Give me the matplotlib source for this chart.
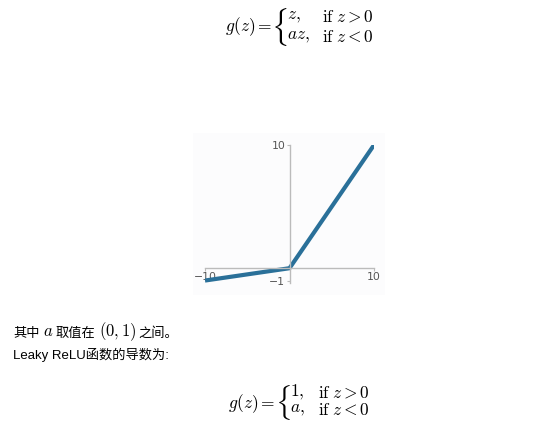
import numpy as np
import matplotlib
matplotlib.use("Agg")
import matplotlib.pyplot as plt
from matplotlib.patches import Rectangle

plt.rcParams['mathtext.fontset'] = 'cm'
plt.rcParams['font.family'] = ['Liberation Sans', 'Noto Sans CJK SC', 'DejaVu Sans']

# Leaky ReLU curve (a = 0.1)
z = [-10, 0, 10]
g = [-1, 0, 10]
xticks = [-10, 10]
yticks = [-1, 10]

W, H = 559, 424
fig = plt.figure(figsize=(W / 100, H / 100), dpi=100)
fig.patch.set_facecolor('white')


def px(x, y):
    return x / W, 1 - y / H


# top formula
fs = 12.5
fig.text(*px(225, 27), r'$g(z) =$', fontsize=fs, va='center', ha='left')
fig.text(*px(271, 27), r'$\{$', fontsize=22, va='center', ha='left')
fig.text(*px(287, 17), r'$z,$', fontsize=fs, va='center', ha='left')
fig.text(*px(322, 17), r'$\mathrm{if}\;z > 0$', fontsize=fs, va='center', ha='left')
fig.text(*px(287, 37), r'$az,$', fontsize=fs, va='center', ha='left')
fig.text(*px(322, 37), r'$\mathrm{if}\;z < 0$', fontsize=fs, va='center', ha='left')

# image background
fig.patches.append(Rectangle(px(193, 295), 192 / W, 162 / H,
                             transform=fig.transFigure, facecolor='#fcfcfd',
                             edgecolor='none', zorder=-1))

# chart
x0, x1 = 205, 374
y_top, y_bot = 145, 283
ax = fig.add_axes([x0 / W, 1 - y_bot / H, (x1 - x0) / W, (y_bot - y_top) / H])
ax.set_zorder(2)
ax.set_facecolor('none')
ax.plot(z, g, color='#2a7099', lw=3, solid_capstyle='butt')
ax.set_xlim(-10, 10)
ax.set_ylim(-1.2, 10)
for s in ['top', 'right']:
    ax.spines[s].set_visible(False)
ax.spines['left'].set_position(('data', 0))
ax.spines['bottom'].set_position(('data', 0))
for s in ['left', 'bottom']:
    ax.spines[s].set_color('#bbbbbb')
    ax.spines[s].set_linewidth(1)
ax.set_xticks(xticks)
ax.set_yticks(yticks)
ax.set_xticklabels(['\u221210', '10'], family='DejaVu Sans')
ax.set_yticklabels(['\u22121', '10'], family='DejaVu Sans')
ax.tick_params(length=2, color='#bbbbbb', labelcolor='#555555', labelsize=7.8, pad=1)

# text lines
cjk = ['Noto Sans CJK SC', 'DejaVu Sans']
fig.text(*px(13, 333), '其中', fontsize=9.5, va='center', ha='left', family=cjk)
fig.text(*px(43, 332), r'$a$', fontsize=12, va='center', ha='left')
fig.text(*px(55, 333), '取值在', fontsize=9.5, va='center', ha='left', family=cjk)
fig.text(*px(99, 332), r'$(0,1)$', fontsize=12, va='center', ha='left')
fig.text(*px(138, 333), '之间。', fontsize=9.5, va='center', ha='left', family=cjk)
fig.text(*px(13, 355), 'Leaky ReLU函数的导数为:', fontsize=9.5, va='center', ha='left')

# bottom formula
fig.text(*px(228, 404), r'$g(z) =$', fontsize=fs, va='center', ha='left')
fig.text(*px(275, 402), r'$\{$', fontsize=21, va='center', ha='left')
fig.text(*px(290, 392), r'$1,$', fontsize=fs, va='center', ha='left')
fig.text(*px(318, 392), r'$\mathrm{if}\;z > 0$', fontsize=fs, va='center', ha='left')
fig.text(*px(290, 410), r'$a,$', fontsize=fs, va='center', ha='left')
fig.text(*px(318, 410), r'$\mathrm{if}\;z < 0$', fontsize=fs, va='center', ha='left')

fig.savefig('out.png', dpi=100)
